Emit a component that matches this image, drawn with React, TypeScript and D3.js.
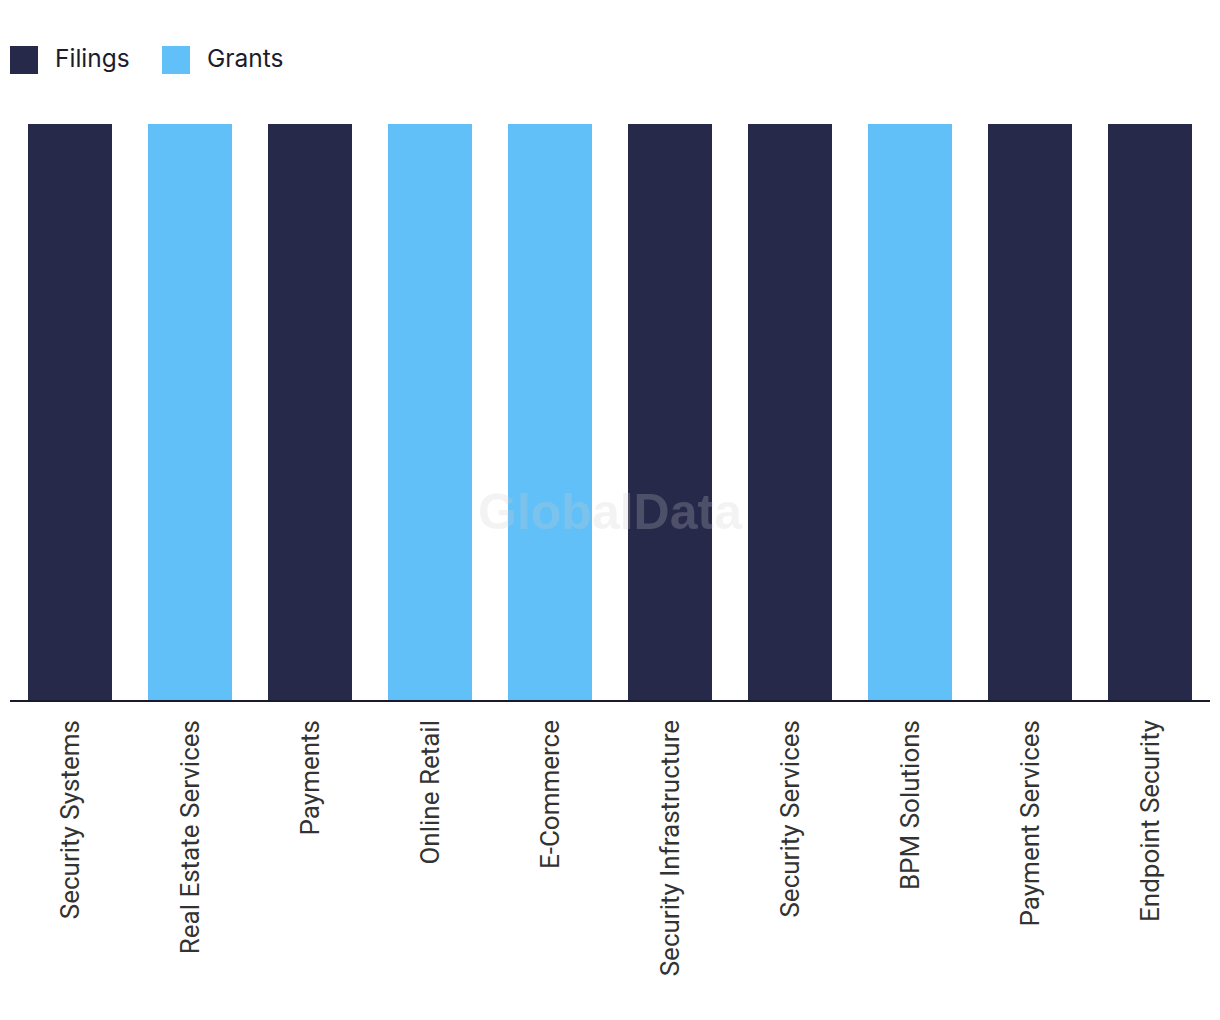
import React from "react";
import * as d3 from "d3";

const categories = [
  "Security Systems",
  "Real Estate Services",
  "Payments",
  "Online Retail",
  "E-Commerce",
  "Security Infrastructure",
  "Security Services",
  "BPM Solutions",
  "Payment Services",
  "Endpoint Security",
];
const filings = [100, 0, 100, 0, 0, 100, 100, 0, 100, 100];
const grants = [0, 100, 0, 100, 100, 0, 0, 100, 0, 0];
const seriesNames = ["Filings", "Grants"];
const seriesColors = ["#262949", "#62c0f8"];

const W = 1220;
const H = 1020;
const margin = { left: 10, right: 10, top: 124, bottom: 320 };

export default function App() {
  const x = d3
    .scaleBand<string>()
    .domain(categories)
    .range([margin.left, W - margin.right])
    .paddingInner(0.3)
    .paddingOuter(0.15);
  const y = d3
    .scaleLinear()
    .domain([0, 100])
    .range([H - margin.bottom, margin.top]);

  const rows = categories.map((c, i) => ({ cat: c, Filings: filings[i], Grants: grants[i] }));
  const stacked = d3.stack<any>().keys(seriesNames)(rows);

  return (
    <svg
      width={W}
      height={H}
      style={{ position: "absolute", left: 0, top: 0, background: "#fff" }}
    >
      {/* legend */}
      {seriesNames.map((s, i) => {
        const lx = 10 + i * 152;
        return (
          <g key={s}>
            <rect x={lx} y={46} width={28} height={28} fill={seriesColors[i]} />
            <text
              x={lx + 45}
              y={67}
              fontFamily="Inter, 'Open Sans', sans-serif"
              fontSize={24.5}
              fill="#1c1c2e"
            >
              {s}
            </text>
          </g>
        );
      })}

      {/* bars */}
      {stacked.map((layer, si) => (
        <g key={layer.key} fill={seriesColors[si]}>
          {layer.map((d, i) =>
            d[1] - d[0] > 0 ? (
              <rect
                key={i}
                x={x(categories[i])}
                y={y(d[1])}
                width={x.bandwidth()}
                height={y(d[0]) - y(d[1])}
              />
            ) : null
          )}
        </g>
      ))}

      {/* watermark */}
      <text
        x={610}
        y={529}
        textAnchor="middle"
        fontFamily="'Liberation Sans', Arial, sans-serif"
        fontWeight="bold"
        fontSize={50}
        fill="#cdcdcd"
        fillOpacity={0.24}
      >
        GlobalData
      </text>

      {/* axis line */}
      <line
        x1={margin.left}
        x2={W - margin.right}
        y1={y(0) + 1}
        y2={y(0) + 1}
        stroke="#1a1a2e"
        strokeWidth={2}
      />

      {/* x labels */}
      {categories.map((c) => {
        const cx = (x(c) as number) + x.bandwidth() / 2;
        return (
          <text
            key={c}
            transform={`translate(${cx + 9},${720}) rotate(-90)`}
            textAnchor="end"
            fontFamily="Roboto, 'Liberation Sans', Arial, sans-serif"
            fontSize={26}
            fill="#333"
          >
            {c}
          </text>
        );
      })}
    </svg>
  );
}
